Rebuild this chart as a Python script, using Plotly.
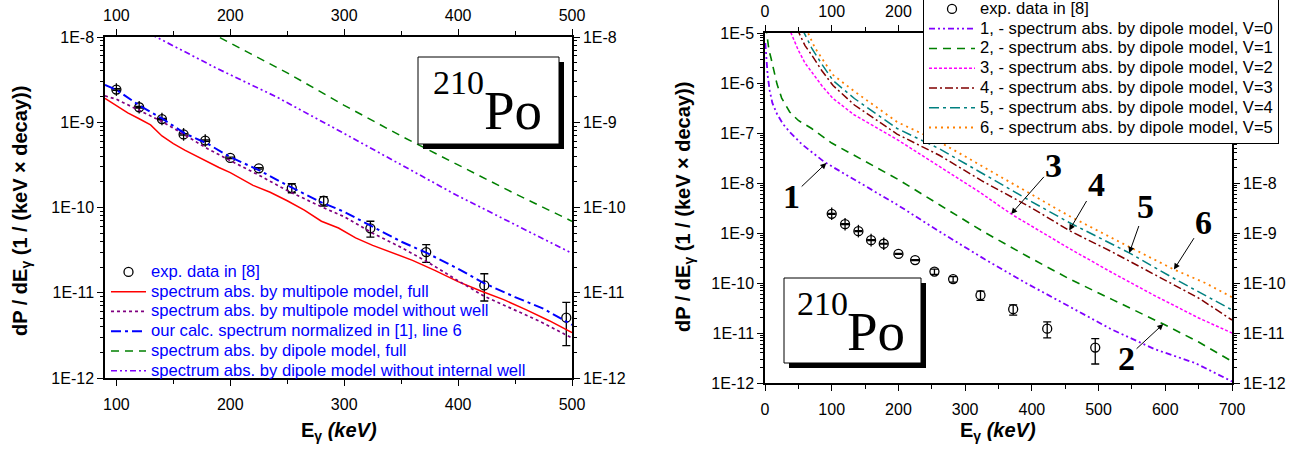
import plotly.graph_objects as go

# ---------------- data ----------------
exp_E = [100, 120, 140, 159, 178, 200, 225, 254, 282, 323, 372, 423, 495]
exp_val = [2.42e-9, 1.50e-9, 1.09e-9, 7.2e-10, 6.1e-10, 3.82e-10, 2.88e-10,
           1.69e-10, 1.20e-10, 5.7e-11, 3.0e-11, 1.22e-11, 5.1e-12]
exp_err_plus = [5e-11, 3e-11, 2e-11, 1.4e-11, 1.2e-11, 8e-12, 6e-12,
                2.1e-11, 1.4e-11, 1.2e-11, 6.6e-12, 4.5e-12, 2.6e-12]
exp_err_minus = [5e-11, 3e-11, 2e-11, 1.4e-11, 1.2e-11, 8e-12, 6e-12,
                 2.0e-11, 1.6e-11, 1.2e-11, 7.3e-12, 4.2e-12, 2.7e-12]
cross_E = [100, 120, 140, 159, 178]
cross_val = [2.42e-9, 1.50e-9, 1.09e-9, 7.2e-10, 6.1e-10]

# left panel curves
multi_full_E = [90, 100, 110, 120, 130, 140, 150, 160, 175, 190, 200, 220, 235, 250, 265,
                280, 295, 310, 325, 340, 360, 380, 400, 420, 440, 460, 480, 500]
multi_full = [1.91e-9, 1.58e-9, 1.29e-9, 1.10e-9, 9.3e-10, 6.9e-10, 5.6e-10, 4.7e-10, 3.7e-10,
              2.95e-10, 2.57e-10, 1.82e-10, 1.51e-10, 1.20e-10, 9.3e-11, 6.9e-11, 5.75e-11,
              4.4e-11, 3.6e-11, 3.0e-11, 2.4e-11, 1.82e-11, 1.35e-11, 1.05e-11, 8.3e-12,
              6.3e-12, 4.7e-12, 3.4e-12]
multi_nowell_E = [90, 100, 120, 140, 160, 180, 200, 225, 250, 280, 300, 325, 350, 372, 388,
                  400, 423, 450, 472, 500]
multi_nowell = [2.04e-9, 1.86e-9, 1.38e-9, 1.02e-9, 7.1e-10, 4.9e-10, 3.55e-10, 2.40e-10,
                1.58e-10, 1.02e-10, 7.8e-11, 5.0e-11, 3.4e-11, 2.34e-11, 1.74e-11, 1.38e-11,
                9.1e-12, 6.3e-12, 4.6e-12, 2.95e-12]
norm_E = [90, 100, 120, 140, 160, 180, 200, 225, 250, 280, 300, 325, 350, 372, 400, 423,
          450, 475, 500]
norm_val = [2.75e-9, 2.40e-9, 1.58e-9, 1.11e-9, 7.4e-10, 5.6e-10, 3.9e-10, 2.75e-10, 1.82e-10,
            1.15e-10, 8.9e-11, 6.0e-11, 3.98e-11, 2.95e-11, 1.91e-11, 1.29e-11, 8.9e-12,
            6.5e-12, 4.2e-12]
dip_full_E = [180, 250, 300, 350, 400, 450, 500]
dip_full = [1.17e-8, 3.8e-9, 1.58e-9, 6.9e-10, 3.16e-10, 1.45e-10, 6.9e-11]
dip_nowell_E = [130, 135, 188, 240, 293, 346, 398, 451, 500]
dip_nowell = [1.07e-8, 1.0e-8, 4.3e-9, 2.0e-9, 8.3e-10, 3.4e-10, 1.41e-10, 6.2e-11, 2.9e-11]

# right panel curves (dipole model, V = 0..5)
v0_E = [0.5, 2, 4, 7, 11, 18, 27, 37, 55, 89, 130, 200, 260, 330, 390, 455, 520, 585, 645, 700]
v0 = [6.3e-6, 3.16e-6, 1.41e-6, 7.1e-7, 4.0e-7, 2.4e-7, 1.51e-7, 1.05e-7, 6.0e-8, 2.63e-8,
      1.26e-8, 3.55e-9, 1.10e-9, 2.95e-10, 1.02e-10, 3.4e-11, 1.17e-11, 4.7e-12, 2.5e-12, 1.07e-12]
v1_E = [1, 3, 6, 9, 12, 15, 18, 25, 37, 50, 70, 100, 135, 200, 262, 327, 391, 455, 520, 597,
        650, 700]
v1 = [1.41e-5, 7.9e-6, 4.5e-6, 3.16e-6, 2.19e-6, 1.38e-6, 9.5e-7, 5.0e-7, 2.63e-7, 1.78e-7,
      1.23e-7, 6.3e-8, 3.47e-8, 1.17e-8, 3.63e-9, 1.07e-9, 3.55e-10, 1.23e-10, 4.7e-11,
      1.51e-11, 6.6e-12, 2.7e-12]
v2_E = [35, 39, 50, 60, 70, 85, 102, 134, 198, 262, 320, 369, 455, 520, 584, 650, 700]
v2 = [1.26e-5, 1.0e-5, 4.5e-6, 2.5e-6, 1.66e-6, 8.9e-7, 4.9e-7, 2.29e-7, 7.4e-8, 2.09e-8,
      6.8e-9, 2.4e-9, 5.0e-10, 1.62e-10, 5.6e-11, 2.0e-11, 1.0e-11]
v3_E = [48, 51, 60, 70, 85, 102, 134, 198, 262, 327, 400, 456, 520, 584, 650, 700]
v3 = [1.26e-5, 1.0e-5, 5.6e-6, 3.63e-6, 1.78e-6, 8.9e-7, 3.63e-7, 9.5e-8, 3.55e-8, 1.07e-8,
      3.16e-9, 1.12e-9, 4.2e-10, 1.48e-10, 5.0e-11, 1.82e-11]
v4_E = [55, 58.5, 70, 85, 102, 134, 198, 262, 327, 400, 456, 546, 616, 660, 700]
v4 = [1.26e-5, 1.0e-5, 5.0e-6, 2.4e-6, 1.12e-6, 4.9e-7, 1.23e-7, 4.8e-8, 1.51e-8, 4.2e-9,
      1.62e-9, 4.0e-10, 1.17e-10, 5.6e-11, 2.9e-11]
v5_E = [61, 64.5, 75, 90, 102, 134, 198, 262, 327, 400, 456, 540, 613, 660, 700]
v5 = [1.26e-5, 1.0e-5, 5.0e-6, 2.5e-6, 1.45e-6, 6.8e-7, 1.66e-7, 6.6e-8, 2.09e-8, 5.8e-9,
      2.19e-9, 5.8e-10, 1.86e-10, 1.0e-10, 5.2e-11]

left_xticks = [100, 200, 300, 400, 500]
left_xminor = [150, 250, 350, 450]
right_xticks = [0, 100, 200, 300, 400, 500, 600, 700]
right_xminor = [50, 150, 250, 350, 450, 550, 650]
left_yticks = [1e-12, 1e-11, 1e-10, 1e-9, 1e-8]
left_ylabels = ["1E-12", "1E-11", "1E-10", "1E-9", "1E-8"]
right_yticks = [1e-12, 1e-11, 1e-10, 1e-9, 1e-8, 1e-7, 1e-6, 1e-5]
right_ylabels = ["1E-12", "1E-11", "1E-10", "1E-9", "1E-8", "1E-7", "1E-6", "1E-5"]

left_names = ["exp. data in [8]",
              "spectrum abs. by multipole model, full",
              "spectrum abs. by multipole model without well",
              "our calc. spectrum normalized in [1], line 6",
              "spectrum abs. by dipole model, full",
              "spectrum abs. by dipole model without internal well"]
right_names = ["exp. data in [8]",
               "1, - spectrum abs. by dipole model, V=0",
               "2, - spectrum abs. by dipole model, V=1",
               "3, - spectrum abs. by dipole model, V=2",
               "4, - spectrum abs. by dipole model, V=3",
               "5, - spectrum abs. by dipole model, V=4",
               "6, - spectrum abs. by dipole model, V=5"]

# ---------------- figure ----------------
W, H = 1313, 450
SANS = "Liberation Sans, Arial, sans-serif"
SERIF = "Liberation Serif, Times New Roman, serif"


def px(x):
    return x / W


def py(y):
    return 1 - y / H


def big(s):
    # legend text drawn a little larger than the (row-spacing) legend font
    return '<span style="font-size:16.6px">%s</span>' % s


fig = go.Figure()


def exp_traces(xa, ya, legend, name):
    fig.add_trace(go.Scatter(
        x=exp_E, y=exp_val, mode="markers", name=big(name),
        xaxis=xa, yaxis=ya, legend=legend,
        marker=dict(symbol="circle-open", size=9, color="black", line=dict(width=1.3, color="black")),
        error_y=dict(type="data", array=exp_err_plus, arrayminus=exp_err_minus, symmetric=False,
                     color="black", thickness=1.3, width=4)))
    fig.add_trace(go.Scatter(
        x=cross_E, y=cross_val, mode="markers", showlegend=False, xaxis=xa, yaxis=ya,
        hoverinfo="skip",
        marker=dict(symbol="line-ns-open", size=9, color="black", line=dict(width=1.3, color="black"))))


def line(xv, yv, name, color, dash, width, xa, ya, legend):
    fig.add_trace(go.Scatter(x=xv, y=yv, mode="lines", name=big(name), xaxis=xa, yaxis=ya,
                             legend=legend, line=dict(color=color, dash=dash, width=width)))


# left panel
exp_traces("x", "y", "legend", left_names[0])
line(multi_full_E, multi_full, left_names[1], "#FF0000", "solid", 1.5, "x", "y", "legend")
line(multi_nowell_E, multi_nowell, left_names[2], "#800080", "3px,3px", 1.7, "x", "y", "legend")
line(norm_E, norm_val, left_names[3], "#0000FF", "10px,4px,3px,4px", 2, "x", "y", "legend")
line(dip_full_E, dip_full, left_names[4], "#008000", "8px,6px", 1.5, "x", "y", "legend")
line(dip_nowell_E, dip_nowell, left_names[5], "#8000FF", "6px,3px,2px,3px,2px,3px", 1.7, "x", "y", "legend")

# right panel
exp_traces("x2", "y2", "legend2", right_names[0])
line(v0_E, v0, right_names[1], "#8000FF", "6px,3px,2px,3px,2px,3px", 1.8, "x2", "y2", "legend2")
line(v1_E, v1, right_names[2], "#008000", "8px,6px", 1.6, "x2", "y2", "legend2")
line(v2_E, v2, right_names[3], "#FF00FF", "3px,2px", 1.5, "x2", "y2", "legend2")
line(v3_E, v3, right_names[4], "#800000", "8px,3px,2px,3px", 1.5, "x2", "y2", "legend2")
line(v4_E, v4, right_names[5], "#008080", "10px,4px,3px,4px", 1.5, "x2", "y2", "legend2")
line(v5_E, v5, right_names[6], "#FF8000", "2px,4px", 1.8, "x2", "y2", "legend2")

# dummy traces for the mirrored (labelled) top / right axes
fig.add_trace(go.Scatter(x=[], y=[], xaxis="x3", yaxis="y3", showlegend=False, hoverinfo="skip"))
fig.add_trace(go.Scatter(x=[], y=[], xaxis="x4", yaxis="y4", showlegend=False, hoverinfo="skip"))

tickfont = dict(family=SANS, size=16, color="black")
common = dict(showline=True, linecolor="black", linewidth=1.5, ticks="outside", ticklen=6,
              tickwidth=1.3, tickcolor="black", showgrid=False, zeroline=False,
              tickfont=tickfont)

L_dom_x = [px(105), px(572)]
L_dom_y = [py(378), py(37)]
R_dom_x = [px(765), px(1232)]
R_dom_y = [py(383), py(33)]

xminL = dict(tickvals=left_xminor, ticks="outside", ticklen=4, tickcolor="black", tickwidth=1.2)
xminR = dict(tickvals=right_xminor, ticks="outside", ticklen=4, tickcolor="black", tickwidth=1.2)
yminL = dict(tickvals=[m * 10.0 ** e for e in range(-12, -8) for m in range(2, 10)],
             ticks="outside", ticklen=3, tickcolor="black", tickwidth=1)
yminR = dict(tickvals=[m * 10.0 ** e for e in range(-12, -5) for m in range(2, 10)],
             ticks="outside", ticklen=3, tickcolor="black", tickwidth=1)

fig.update_layout(
    width=W, height=H, margin=dict(l=0, r=0, t=0, b=0, autoexpand=False),
    paper_bgcolor="white", plot_bgcolor="white",
    xaxis=dict(domain=L_dom_x, range=[90, 500], anchor="y", tickvals=left_xticks, minor=xminL,
               ticklabelstandoff=5, **common),
    yaxis=dict(domain=L_dom_y, type="log", range=[-12, -8], anchor="x", tickvals=left_yticks,
               ticktext=left_ylabels, minor=yminL, **common),
    xaxis3=dict(range=[90, 500], overlaying="x", side="top", anchor="y", tickvals=left_xticks,
                minor=xminL, ticklabelstandoff=2, **common),
    yaxis3=dict(type="log", range=[-12, -8], overlaying="y", side="right", anchor="x",
                tickvals=left_yticks, ticktext=left_ylabels, minor=yminL, **common),
    xaxis2=dict(domain=R_dom_x, range=[0, 700], anchor="y2", tickvals=right_xticks, minor=xminR,
                ticklabelstandoff=5, **common),
    yaxis2=dict(domain=R_dom_y, type="log", range=[-12, -5], anchor="x2", tickvals=right_yticks,
                ticktext=right_ylabels, minor=yminR, **common),
    xaxis4=dict(range=[0, 700], overlaying="x2", side="top", anchor="y2", tickvals=right_xticks,
                minor=xminR, ticklabelstandoff=2, **common),
    yaxis4=dict(type="log", range=[-12, -5], overlaying="y2", side="right", anchor="x2",
                tickvals=right_yticks, ticktext=right_ylabels, minor=yminR, **common),
    legend=dict(x=px(106), y=py(257), xanchor="left", yanchor="top", itemwidth=35,
                bgcolor="rgba(0,0,0,0)", borderwidth=0,
                font=dict(family=SANS, size=12.9, color="#0000FF"), tracegroupgap=0),
    legend2=dict(x=px(923), y=py(144), xanchor="left", yanchor="bottom", itemwidth=46,
                 bgcolor="white", bordercolor="black", borderwidth=1,
                 font=dict(family=SANS, size=12.9, color="black"), tracegroupgap=0),
    showlegend=True,
)

# 210Po boxes (shadow + box)
shapes = []
for (x0, y0, x1, y1) in [(418, 57, 559, 144), (784, 278, 921, 363)]:
    shapes.append(dict(type="rect", xref="paper", yref="paper", x0=px(x0 + 5), x1=px(x1 + 5),
                       y0=py(y1 + 5), y1=py(y0 + 5), fillcolor="black", line=dict(width=0), layer="above"))
    shapes.append(dict(type="rect", xref="paper", yref="paper", x0=px(x0), x1=px(x1),
                       y0=py(y1), y1=py(y0), fillcolor="white", line=dict(color="black", width=1),
                       layer="above"))
fig.update_layout(shapes=shapes)

ann = []
for (cx210, cy210, cxPo, cyPo) in [(458, 83, 513, 106), (822, 303, 876, 327)]:
    ann.append(dict(text="210", x=px(cx210), y=py(cy210), xref="paper", yref="paper", showarrow=False,
                    font=dict(family=SERIF, size=34, color="black"), xanchor="center", yanchor="middle"))
    ann.append(dict(text="Po", x=px(cxPo), y=py(cyPo + 4), xref="paper", yref="paper", showarrow=False,
                    font=dict(family=SERIF, size=55, color="black"), xanchor="center", yanchor="middle"))

ytitle = "<b>dP / dE<sub>γ</sub> (1 / (keV × decay))</b>"
xtitle = "<b>E<sub>γ</sub> <i>(keV)</i></b>"
for (tx, ty) in [(21, 211), (685, 207)]:
    ann.append(dict(text=ytitle, x=px(tx), y=py(ty), xref="paper", yref="paper", showarrow=False,
                    textangle=-90, xanchor="center", yanchor="middle",
                    font=dict(family=SANS, size=20, color="black")))
for tx in [339, 998]:
    ann.append(dict(text=xtitle, x=px(tx), y=py(431), xref="paper", yref="paper", showarrow=False,
                    xanchor="center", yanchor="middle",
                    font=dict(family=SANS, size=20, color="black")))

# curve number labels with arrows (right panel; log10 units on y)
labels = [("1", 40, -8.26, 92, -7.6), ("2", 542, -11.5, 597, -10.82),
          ("3", 433, -7.65, 369, -8.62), ("4", 497, -8.02, 456, -8.95),
          ("5", 571, -8.46, 546, -9.40), ("6", 658, -8.79, 613, -9.73)]
for t, tx, ty, hx, hy in labels:
    ann.append(dict(text="<b>%s</b>" % t, x=hx, y=hy, ax=tx, ay=ty, xref="x2", yref="y2",
                    axref="x2", ayref="y2", showarrow=True, arrowhead=2, arrowsize=1.2,
                    arrowwidth=1, arrowcolor="black",
                    font=dict(family=SERIF, size=34, color="black")))
fig.update_layout(annotations=ann)

fig.write_html("out.html")
